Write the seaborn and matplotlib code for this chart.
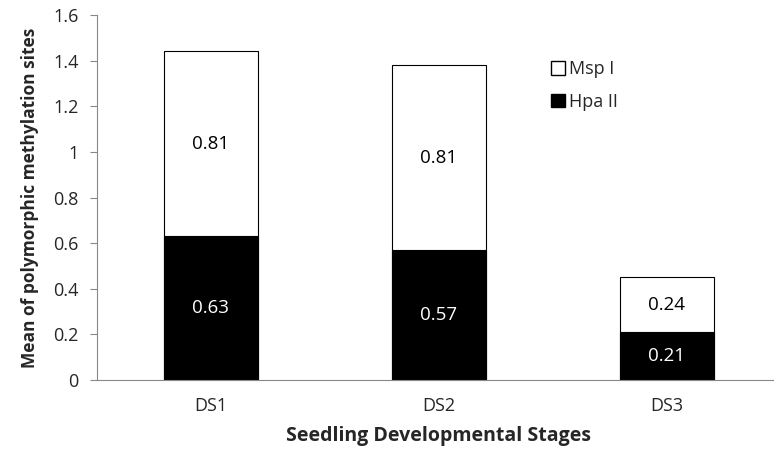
import matplotlib
matplotlib.use("Agg")
import matplotlib.pyplot as plt
import seaborn as sns
import numpy as np
from matplotlib.patches import Patch

stages = ["DS1", "DS2", "DS3"]
hpa_ii = [0.63, 0.57, 0.21]
msp_i = [0.81, 0.81, 0.24]
totals = [h + m for h, m in zip(hpa_ii, msp_i)]

sns.set_style("white")
plt.rcParams['font.family'] = ['Open Sans', 'DejaVu Sans']

fig = plt.figure(figsize=(7.74, 4.53), dpi=100)
ax = fig.add_axes([0.125, 0.161, 0.884, 0.806])

sns.barplot(x=stages, y=totals, color="white", edgecolor="black",
            linewidth=0.8, width=0.41, ax=ax)
sns.barplot(x=stages, y=hpa_ii, color="black", edgecolor="black",
            linewidth=0.8, width=0.41, ax=ax)

for i in range(len(stages)):
  ax.text(i, hpa_ii[i] / 2, "%.2f" % hpa_ii[i], color="white",
          ha="center", va="center", fontsize=13.5)
  ax.text(i, hpa_ii[i] + msp_i[i] / 2, "%.2f" % msp_i[i], color="black",
          ha="center", va="center", fontsize=13.5)

ax.set_ylim(0, 1.6)
ax.set_xlim(-0.5, 2.5)
ax.set_yticks(np.arange(0, 1.61, 0.2))
ax.set_yticklabels(["0", "0.2", "0.4", "0.6", "0.8", "1", "1.2", "1.4", "1.6"],
                   fontsize=13)
ax.set_xticks(range(len(stages)))
ax.set_xticklabels(stages, fontsize=13)
ax.set_xticks([0.5, 1.5, 2.5], minor=True)
ax.tick_params(axis="x", which="major", length=0, pad=12)
ax.tick_params(axis="x", which="minor", length=5, color="#888888", direction="out")
ax.tick_params(axis="y", which="major", length=5, color="#888888", direction="out",
               left=True, pad=8)

for side in ["top", "right"]:
  ax.spines[side].set_visible(False)
for side in ["left", "bottom"]:
  ax.spines[side].set_color("#888888")
  ax.spines[side].set_linewidth(0.8)

ax.set_xlabel("Seedling Developmental Stages", fontsize=14, fontweight="bold",
              labelpad=8)
ax.set_ylabel("Mean of polymorphic methylation sites", fontsize=12.5,
              fontweight="bold", labelpad=10)

handles = [Patch(facecolor="white", edgecolor="black", label="Msp I"),
           Patch(facecolor="black", edgecolor="black", label="Hpa II")]
ax.legend(handles=handles, loc="upper left", bbox_to_anchor=(0.64, 0.92),
          frameon=False, fontsize=13, handlelength=0.8, handleheight=0.8,
          handletextpad=0.2, labelspacing=0.8)

plt.savefig("out.png", dpi=100)
plt.close()
